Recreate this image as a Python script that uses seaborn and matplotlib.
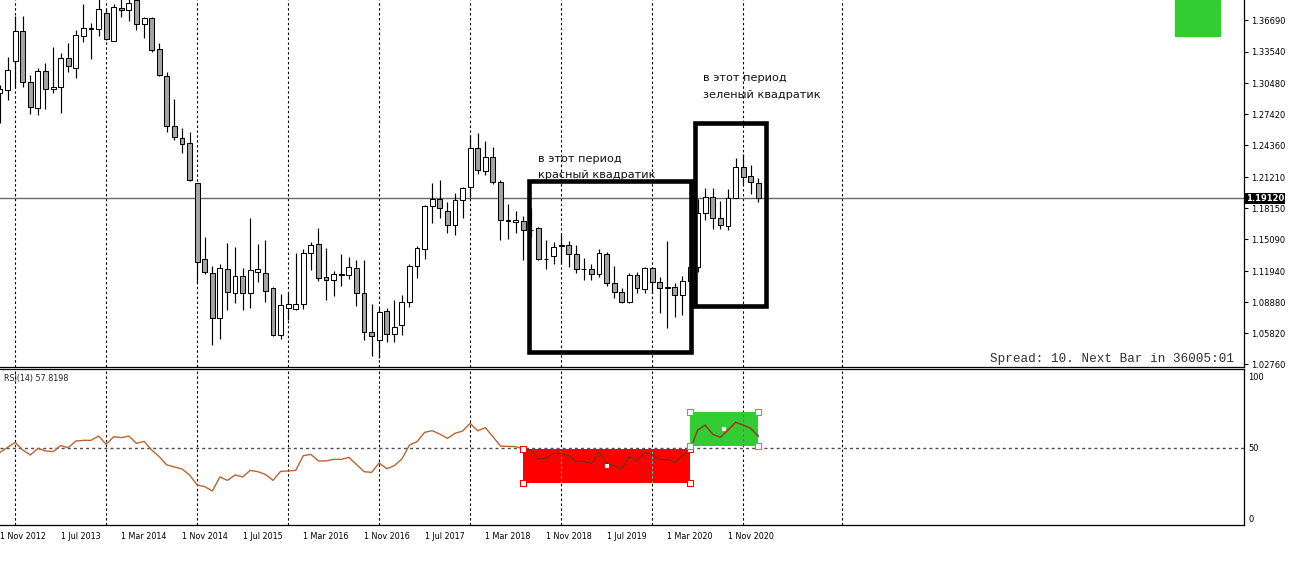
import numpy as np
import pandas as pd
import matplotlib
matplotlib.use("Agg")
import matplotlib.pyplot as plt
import matplotlib.transforms as mtrans
from matplotlib.patches import Rectangle
import seaborn as sns

sns.set_style("white")
plt.rcParams['font.family'] = ['DejaVu Sans']

# ---------------- data (EURUSD monthly, Nov 2012 .. Mar 2021) ----------------
months = pd.date_range("2012-11-01", "2021-03-01", freq="MS")
opens = [1.2953, 1.2979, 1.3265, 1.3564, 1.3055, 1.2799, 1.3166, 1.2986, 1.3006, 1.3297,
         1.3199, 1.3514, 1.3582, 1.3577, 1.3741, 1.3465, 1.3785, 1.3768, 1.3870, 1.3630,
         1.3686, 1.3380, 1.3117, 1.2624, 1.2503, 1.2454, 1.2060, 1.1311, 1.1179, 1.0729,
         1.1218, 1.0982, 1.1143, 1.0975, 1.1183, 1.1179, 1.1031, 1.0565, 1.0834, 1.0821,
         1.0867, 1.1376, 1.1458, 1.1133, 1.1107, 1.1166, 1.1156, 1.1222, 1.0975, 1.0591,
         1.0515, 1.0801, 1.0571, 1.0663, 1.0887, 1.1245, 1.1412, 1.1839, 1.1905, 1.1787,
         1.1646, 1.1895, 1.2026, 1.2405, 1.2184, 1.2316, 1.2069, 1.1698, 1.1675, 1.1691,
         1.1600, 1.1616, 1.1311, 1.1343, 1.1440, 1.1452, 1.1363, 1.1218, 1.1212, 1.1166,
         1.1363, 1.1074, 1.0991, 1.0893, 1.1156, 1.1018, 1.1222, 1.1090, 1.1035, 1.1035,
         1.0959, 1.1100, 1.1238, 1.1764, 1.1928, 1.1715, 1.1639, 1.1918, 1.2223, 1.2131,
         1.2066]
highs = [1.3028, 1.3307, 1.3711, 1.3708, 1.3127, 1.3193, 1.3242, 1.3406, 1.3341, 1.3445,
         1.3570, 1.3827, 1.3636, 1.3893, 1.3775, 1.3825, 1.3967, 1.3906, 1.3993, 1.3700,
         1.3700, 1.3439, 1.3160, 1.2887, 1.2602, 1.2568, 1.2065, 1.1533, 1.1245, 1.1260,
         1.1468, 1.1432, 1.1222, 1.1715, 1.1461, 1.1501, 1.1040, 1.0969, 1.0992, 1.1376,
         1.1409, 1.1484, 1.1616, 1.1419, 1.1198, 1.1363, 1.1330, 1.1304, 1.1304, 1.0870,
         1.0830, 1.0834, 1.0909, 1.0959, 1.1268, 1.1445, 1.1846, 1.2066, 1.2092, 1.1878,
         1.1961, 1.2025, 1.2537, 1.2555, 1.2479, 1.2414, 1.2097, 1.1851, 1.1790, 1.1734,
         1.1815, 1.1632, 1.1500, 1.1486, 1.1570, 1.1489, 1.1448, 1.1324, 1.1264, 1.1412,
         1.1386, 1.1249, 1.1030, 1.1179, 1.1189, 1.1239, 1.1239, 1.1139, 1.1495, 1.1074,
         1.1147, 1.1422, 1.1908, 1.2011, 1.2011, 1.1881, 1.2004, 1.2310, 1.2349, 1.2243,
         1.2113]
lows = [1.2651, 1.2881, 1.3000, 1.3012, 1.2740, 1.2733, 1.2789, 1.2947, 1.2749, 1.3160,
        1.3094, 1.3455, 1.3282, 1.3514, 1.3476, 1.3465, 1.3695, 1.3662, 1.3571, 1.3489,
        1.3357, 1.3117, 1.2568, 1.2486, 1.2355, 1.2085, 1.1090, 1.1170, 1.0462, 1.0522,
        1.0811, 1.0883, 1.0808, 1.0830, 1.1085, 1.0893, 1.0558, 1.0522, 1.0711, 1.0810,
        1.0818, 1.1205, 1.1100, 1.0907, 1.0952, 1.1048, 1.1114, 1.0850, 1.0515, 1.0358,
        1.0340, 1.0499, 1.0499, 1.0565, 1.0844, 1.1124, 1.1311, 1.1665, 1.1715, 1.1567,
        1.1550, 1.1715, 1.1915, 1.2154, 1.2141, 1.2055, 1.1501, 1.1508, 1.1567, 1.1301,
        1.1526, 1.1302, 1.1215, 1.1268, 1.1270, 1.1234, 1.1176, 1.1111, 1.1106, 1.1140,
        1.1051, 1.0926, 1.0879, 1.0879, 1.0981, 1.0981, 1.0975, 1.0779, 1.0636, 1.0745,
        1.0766, 1.1090, 1.1185, 1.1696, 1.1612, 1.1612, 1.1603, 1.1911, 1.2053, 1.1952,
        1.1880]
closes = [1.2986, 1.3176, 1.3564, 1.3055, 1.2809, 1.3166, 1.2986, 1.3006, 1.3297, 1.3216,
          1.3521, 1.3587, 1.3590, 1.3774, 1.3479, 1.3794, 1.3770, 1.3833, 1.3630, 1.3686,
          1.3373, 1.3127, 1.2624, 1.2512, 1.2447, 1.2092, 1.1287, 1.1189, 1.0729, 1.1222,
          1.0991, 1.1143, 1.0982, 1.1208, 1.1212, 1.1001, 1.0565, 1.0860, 1.0870, 1.0870,
          1.1376, 1.1449, 1.1130, 1.1107, 1.1166, 1.1160, 1.1231, 1.0975, 1.0591, 1.0555,
          1.0794, 1.0571, 1.0646, 1.0887, 1.1245, 1.1425, 1.1839, 1.1902, 1.1813, 1.1646,
          1.1895, 1.2010, 1.2405, 1.2190, 1.2316, 1.2069, 1.1698, 1.1684, 1.1698, 1.1600,
          1.1604, 1.1311, 1.1314, 1.1435, 1.1448, 1.1363, 1.1215, 1.1214, 1.1166, 1.1370,
          1.1074, 1.0991, 1.0893, 1.1156, 1.1025, 1.1228, 1.1090, 1.1025, 1.1030, 1.0959,
          1.1100, 1.1234, 1.1764, 1.1928, 1.1715, 1.1646, 1.1918, 1.2217, 1.2125, 1.2075,
          1.1912]
rsi = [46.6, 50.1, 53.6, 48.3, 44.8, 49.4, 47.6, 47.1, 51.3, 49.9,
       54.5, 55.0, 55.0, 58.0, 52.2, 57.6, 56.9, 58.0, 52.9, 54.3,
       48.3, 43.6, 37.8, 36.4, 35.0, 30.8, 23.8, 22.6, 19.6, 29.4,
       27.0, 30.8, 29.4, 34.0, 33.1, 31.2, 27.0, 33.3, 33.6, 34.0,
       44.3, 45.2, 40.6, 40.6, 41.7, 41.7, 43.1, 38.2, 33.1, 32.6,
       39.2, 35.2, 37.3, 42.0, 51.7, 54.1, 60.6, 61.8, 59.4, 56.4,
       59.9, 61.5, 66.9, 61.7, 63.9, 57.6, 51.0, 50.8, 50.6, 49.0,
       48.3, 42.4, 42.4, 45.9, 45.9, 44.3, 40.1, 40.1, 38.9, 46.6,
       38.9, 37.3, 35.4, 43.6, 40.6, 46.6, 44.8, 41.7, 41.7, 39.6,
       44.3, 48.3, 62.2, 65.7, 59.2, 57.1, 62.2, 67.6, 65.7, 63.4,
       57.8]

price_ticks = [1.02760, 1.05820, 1.08880, 1.11940, 1.15090, 1.18150,
               1.21210, 1.24360, 1.27420, 1.30480, 1.33540, 1.36690]
current_price = 1.19120
rsi_level = 50
rsi_ticks = [0, 50, 100]
date_label_idx = list(range(0, 101, 8))
date_labels = ["1 " + months[i].strftime("%b %Y") for i in date_label_idx]
grid_idx = [2, 14, 26, 38, 50, 62, 74, 86, 98, 111]

# annotation boxes: (first bar, last bar, low, high)
box_red_period = (69.8, 91.1, 1.0394, 1.2082)
box_green_period = (91.6, 101.0, 1.0853, 1.2657)
rsi_red_box = (69, 91, 25.2, 49.0)
rsi_green_box = (91, 100, 51.0, 74.8)

# ---------------- figure ----------------
W, H = 1290, 579
fig = plt.figure(figsize=(W / 100, H / 100), dpi=100)
fig.patch.set_facecolor('white')

def frac(x0, y0, x1, y1):
    return [x0 / W, 1 - y1 / H, (x1 - x0) / W, (y1 - y0) / H]

ax = fig.add_axes(frac(0, 0, 1244, 366.7))
ax2 = fig.add_axes(frac(0, 369.3, 1244, 525))

k = np.arange(len(opens))
o, h, l, c = map(np.array, (opens, highs, lows, closes))
XMAX = 1244 / 7.583

# ---- main pane ----
for gi in grid_idx:
    ax.axvline(gi, color='black', lw=0.8, ls=(0, (2.2, 2.2)), zorder=1)
ax.axhline(current_price, color='#6a6a6a', lw=1.0, zorder=1.5)

bull = c >= o
body_lo = np.minimum(o, c)
body_h = np.maximum(np.abs(c - o), 0.00012)
ax.vlines(k, l, h, color='black', lw=0.85, zorder=2)
ax.bar(k, body_h, bottom=body_lo, width=0.64,
       color=np.where(bull, 'white', '#a4a4a4'),
       edgecolor='black', linewidth=0.75, zorder=3)

for (x0, x1, y0, y1) in (box_red_period, box_green_period):
    ax.add_patch(Rectangle((x0, y0), x1 - x0, y1 - y0, fill=False,
                           edgecolor='black', lw=3.3, zorder=5, joinstyle='miter'))

fs_note = 8.1
ax.text(70.95, 1.2270, "в этот период", fontsize=fs_note, color='#111111', va='baseline', zorder=6)
ax.text(70.95, 1.2107, "красный квадратик", fontsize=fs_note, color='#111111', va='baseline', zorder=6)
ax.text(92.7, 1.3068, "в этот период", fontsize=fs_note, color='#111111', va='baseline', zorder=6)
ax.text(92.7, 1.2900, "зеленый квадратик", fontsize=fs_note, color='#111111', va='baseline', zorder=6)

ax.add_patch(Rectangle((1175 / 1244, 1 - 35.7 / 366.7), 45 / 1244, 35.7 / 366.7,
                       transform=ax.transAxes, color='#32cd32', zorder=6, clip_on=False))

ax.text(0.992, 0.021, "Spread: 10. Next Bar in 36005:01", transform=ax.transAxes,
        ha='right', va='center', fontsize=9.1, family='Liberation Mono', color='#303030')

ax.set_xlim(0, XMAX)
ax.set_ylim(1.02523, 1.38661)
ax.set_xticks([])
ax.yaxis.tick_right()
ax.set_yticks(price_ticks)
ax.set_yticklabels([f"{v:.5f}" for v in price_ticks])
ax.tick_params(axis='y', direction='out', length=3, width=0.8, labelsize=6,
               pad=2, colors='black')
for side in ('left', 'top'):
    ax.spines[side].set_visible(False)
for side in ('right', 'bottom'):
    ax.spines[side].set_color('black')
    ax.spines[side].set_linewidth(0.9)

trans = mtrans.blended_transform_factory(ax.transAxes, ax.transData)
ax.text(1.0015, current_price, f"{current_price:.5f}", transform=trans, ha='left',
        va='center', fontsize=6, fontweight='bold', color='white', zorder=7,
        bbox=dict(boxstyle='square,pad=0.15', fc='black', ec='none'))

# ---- RSI pane ----
for gi in grid_idx:
    ax2.axvline(gi, color='black', lw=0.8, ls=(0, (2.2, 2.2)), zorder=1)

rects = [(rsi_red_box, '#ff0000', '#33c8c8'),
         (rsi_green_box, '#32cd32', '#b040b0')]
for (x0, x1, y0, y1), col, gcol in rects:
    ax2.add_patch(Rectangle((x0, y0), x1 - x0, y1 - y0, color=col, zorder=2, lw=0))
    for gi in grid_idx:
        if x0 < gi < x1:
            ax2.plot([gi, gi], [y0, y1], color=gcol, lw=0.8, ls=(0, (2.2, 2.2)), zorder=2.5)

ax2.axhline(rsi_level, color='#505050', lw=1.0, ls=(0, (2.2, 2.2)), zorder=3)

rsi_arr = np.array(rsi)
sns.lineplot(x=k, y=rsi_arr, ax=ax2, color='#bb6333', lw=1.0, zorder=4)
sub_r = slice(69, 92)
sub_g = slice(91, 101)
sns.lineplot(x=k[sub_r], y=rsi_arr[sub_r], ax=ax2, color='#8b1a0a', lw=1.0, zorder=4.5)
sns.lineplot(x=k[sub_g], y=rsi_arr[sub_g], ax=ax2, color='#7a4a1e', lw=1.0, zorder=4.5)

for (x0, x1, y0, y1), col, _ in rects:
    ax2.scatter([x0, x1, x0, x1], [y0, y0, y1, y1], marker='s', s=14,
                facecolor='white', edgecolor=col, linewidth=0.8, zorder=6)
    ax2.scatter([(x0 + x1) / 2], [(y0 + y1) / 2], marker='s', s=5,
                color='white', zorder=6, linewidth=0)

ax2.text(0.0035, 0.944, f"RSI(14) {rsi[-1] + 0.0198:.4f}", transform=ax2.transAxes,
         fontsize=5.8, color='#222222', va='center', ha='left')

ax2.set_xlim(0, XMAX)
ax2.set_ylim(-4.2, 104.7)
ax2.yaxis.tick_right()
ax2.set_yticks(rsi_ticks)
ax2.set_yticklabels([str(v) for v in rsi_ticks])
ax2.tick_params(axis='y', length=0, labelsize=6, pad=3, colors='black')
ax2.set_xticks(date_label_idx)
ax2.set_xticklabels(date_labels)
for t in ax2.get_xticklabels():
    t.set_ha('left')
ax2.tick_params(axis='x', direction='out', length=3, width=0.8, labelsize=5.8,
                pad=2, colors='black')
ax2.set_xlabel("")
ax2.set_ylabel("")
ax2.spines['left'].set_visible(False)
for side in ('right', 'bottom', 'top'):
    ax2.spines[side].set_color('black')
    ax2.spines[side].set_linewidth(0.9)

fig.savefig("out.png", dpi=100, facecolor='white')
